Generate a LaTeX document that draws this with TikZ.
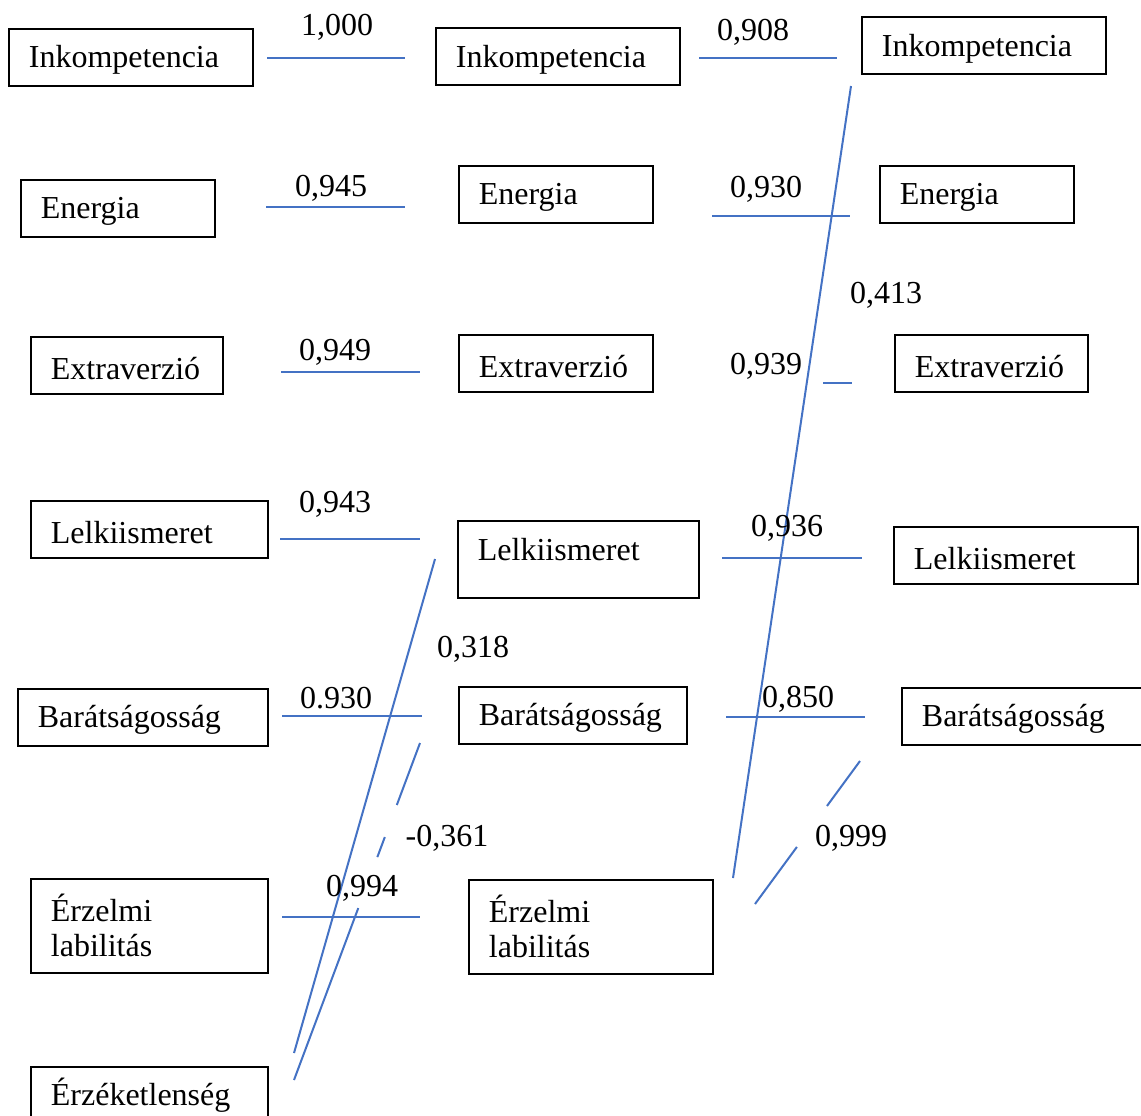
\documentclass[tikz,border=0pt]{standalone}
\usepackage{fontspec}
\setmainfont{Liberation Serif}
\usetikzlibrary{positioning}
\definecolor{lineblue}{HTML}{4472C4}

\begin{document}
\begin{tikzpicture}[x=0.5pt,y=-0.5pt,
  factor/.style={draw,line width=0.9pt,anchor=north west,inner xsep=10pt,inner ysep=0pt,
    align=left,text width=#1,minimum height=28.5pt,text height=14pt,font=\fontsize{16}{17.5}\selectfont},
  coef/.style={inner sep=1pt,font=\fontsize{16}{17.5}\selectfont},
  link/.style={draw=lineblue,line width=1pt}]
  \useasboundingbox (0,0) rectangle (1141,1115);
  % first column
  \node[factor=102pt] (ink1) at (8,28) {Inkompetencia};
  \node[factor=77pt] (ene1) at (20,179) {Energia};
  \node[factor=76pt] (ext1) at (30,336) {Extraverzió};
  \node[factor=98.5pt] (lel1) at (30,500) {Lelkiismeret};
  \node[factor=105pt] (bar1) at (17,688) {Barátságosság};
  \node[factor=98.5pt,text height={},minimum height=47pt] (erz1) at (30,878) {Érzelmi\\labilitás};
  \node[factor=98.5pt] (ert1) at (30,1066) {Érzéketlenség};
  % second column
  \node[factor=102pt] (ink2) at (435,27) {Inkompetencia};
  \node[factor=77pt] (ene2) at (458,165) {Energia};
  \node[factor=77pt] (ext2) at (458,334) {Extraverzió};
  \node[factor=100.5pt,minimum height=38.5pt,text depth=13pt] (lel2) at (457,520) {Lelkiismeret};
  \node[factor=94pt] (bar2) at (458,686) {Barátságosság};
  \node[factor=102pt,text height={},minimum height=47pt] (erz2) at (468,879) {Érzelmi\\labilitás};
  % third column
  \node[factor=102pt] (ink3) at (861,16) {Inkompetencia};
  \node[factor=77pt] (ene3) at (879,165) {Energia};
  \node[factor=76.5pt] (ext3) at (894,334) {Extraverzió};
  \node[factor=102pt] (lel3) at (893,526) {Lelkiismeret};
  \node[factor=102pt] (bar3) at (901,687) {Barátságosság};

  % line ends
  \coordinate (a1) at (267,58);  \coordinate (b1) at (405,58);
  \coordinate (c1) at (699,58);  \coordinate (d1) at (837,58);
  \coordinate (a2) at (266,207); \coordinate (b2) at (405,207);
  \coordinate (c2) at (712,216); \coordinate (d2) at (850,216);
  \coordinate (a3) at (281,372); \coordinate (b3) at (420,372);
  \coordinate (c3) at (823,383); \coordinate (d3) at (852,383);
  \coordinate (a4) at (280,539); \coordinate (b4) at (420,539);
  \coordinate (c4) at (722,558); \coordinate (d4) at (862,558);
  \coordinate (a5) at (282,716); \coordinate (b5) at (422,716);
  \coordinate (c5) at (726,717); \coordinate (d5) at (865,717);
  \coordinate (a6) at (282,917); \coordinate (b6) at (420,917);
  \coordinate (p1) at (851,86);  \coordinate (q1) at (733,878);
  \coordinate (p2) at (435,559); \coordinate (q2) at (294,1053);
  \coordinate (p3) at (420,743); \coordinate (q3) at (294,1080);
  \coordinate (p4) at (860,761); \coordinate (q4) at (755,904);

  \draw[link] (a1) -- (b1);
  \draw[link] (c1) -- (d1);
  \draw[link] (a2) -- (b2);
  \draw[link,line width=1.3pt] (c2) -- (d2);
  \draw[link] (a3) -- (b3);
  \draw[link,line width=1.3pt] (c3) -- (d3);
  \draw[link,line width=1.3pt] (a4) -- (b4);
  \draw[link] (c4) -- (d4);
  \draw[link] (a5) -- (b5);
  \draw[link] (c5) -- (d5);
  \draw[link] (a6) -- (b6);
  \draw[link] (p1) -- (q1);
  \draw[link] (p2) -- (q2);
  \draw[link,dash pattern=on 33.1pt off 17.1pt on 10.7pt off 27.2pt on 100pt] (p3) -- (q3);
  \draw[link,dash pattern=on 27.9pt off 25.4pt on 40pt] (p4) -- (q4);

  % coefficients
  \node[coef] (k1) at (337,27) {1,000};
  \node[coef] (k2) at (753,32) {0,908};
  \node[coef] (k3) at (331,188) {0,945};
  \node[coef] (k4) at (766,189) {0,930};
  \node[coef] (k5) at (886,295) {0,413};
  \node[coef] (k6) at (335,352) {0,949};
  \node[coef] (k7) at (766,366) {0,939};
  \node[coef] (k8) at (335,504) {0,943};
  \node[coef] (k9) at (787,528) {0,936};
  \node[coef] (k10) at (473,649) {0,318};
  \node[coef] (k11) at (336,698) {0.930};
  \node[coef] (k12) at (798,699) {0,850};
  \node[coef] (k13) at (447,838) {-0,361};
  \node[coef] (k14) at (851,838) {0,999};
  \node[coef] (k15) at (362,888) {0,994};
\end{tikzpicture}
\end{document}
